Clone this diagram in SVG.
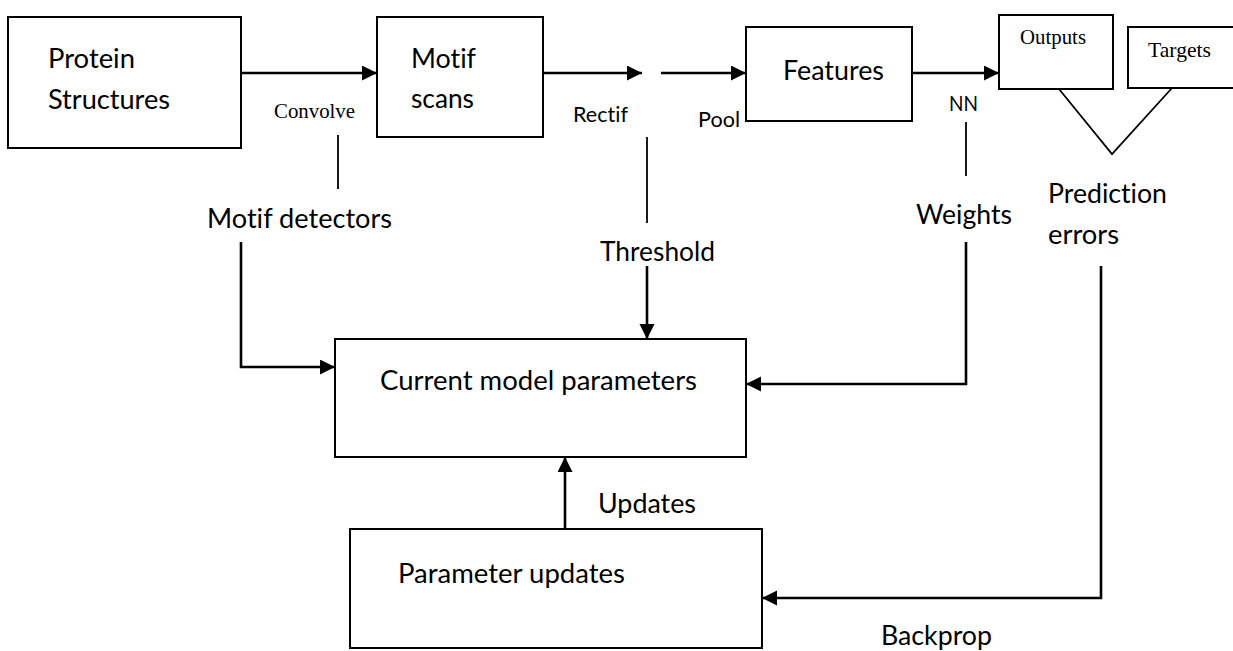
<svg xmlns="http://www.w3.org/2000/svg" width="1233" height="651" viewBox="0 0 1233 651">
  <style>
    .box { fill: #ffffff; stroke: #000000; stroke-width: 2; }
    .flow { fill: none; stroke: #000000; stroke-width: 2.6; }
    .tick { fill: none; stroke: #000000; stroke-width: 1.8; }
    text { font-variant-ligatures: none; font-feature-settings: "liga" 0, "clig" 0; }
    .lbl { font-family: Lato, "Open Sans", sans-serif; font-size: 26px; fill: #000000; }
    .sm { font-family: Lato, "Open Sans", sans-serif; font-size: 21px; fill: #000000; }
    .serif { font-family: "Liberation Serif", "Times New Roman", serif; font-size: 21px; fill: #000000; }
  </style>
  <defs>
    <marker id="head" markerUnits="userSpaceOnUse" markerWidth="16" markerHeight="16" refX="15" refY="7.5" orient="auto">
      <path d="M0,0 L15,7.5 L0,15 Z" fill="#000000"/>
    </marker>
  </defs>
  <rect width="1233" height="651" fill="#ffffff"/>

  <!-- connectors -->
  <g id="connectors">
    <line class="flow" x1="241" y1="73" x2="377" y2="73" marker-end="url(#head)"/>
    <line class="flow" x1="543" y1="73" x2="642" y2="73" marker-end="url(#head)"/>
    <line class="flow" x1="661" y1="73" x2="746" y2="73" marker-end="url(#head)"/>
    <line class="flow" x1="913" y1="73" x2="999" y2="73" marker-end="url(#head)"/>
    <line class="tick" x1="338" y1="135" x2="338" y2="189"/>
    <line class="tick" x1="647" y1="137" x2="647" y2="223"/>
    <line class="tick" x1="966" y1="122" x2="966" y2="176"/>
    <polyline class="tick" points="1059,89 1112,154 1172,88"/>
    <polyline class="flow" points="241,242 241,367 335,367" marker-end="url(#head)"/>
    <line class="flow" x1="647" y1="266" x2="647" y2="339" marker-end="url(#head)"/>
    <polyline class="flow" points="966,242 966,384 746,384" marker-end="url(#head)"/>
    <line class="flow" x1="565" y1="529" x2="565" y2="457" marker-end="url(#head)"/>
    <polyline class="flow" points="1101,266 1101,598 762,598" marker-end="url(#head)"/>
  </g>

  <!-- nodes -->
  <g id="protein-structures">
    <rect class="box" x="8" y="17" width="233" height="131"/>
    <text class="lbl" x="48" y="68" textLength="87" lengthAdjust="spacingAndGlyphs">Protein</text>
    <text class="lbl" x="48" y="109" textLength="122" lengthAdjust="spacingAndGlyphs">Structures</text>
  </g>
  <g id="motif-scans">
    <rect class="box" x="377" y="17" width="166" height="120"/>
    <text class="lbl" x="411" y="68" textLength="65" lengthAdjust="spacingAndGlyphs">Motif</text>
    <text class="lbl" x="411" y="108" textLength="63" lengthAdjust="spacingAndGlyphs">scans</text>
  </g>
  <g id="features">
    <rect class="box" x="746" y="27" width="166" height="94"/>
    <text class="lbl" x="783" y="80" textLength="101" lengthAdjust="spacingAndGlyphs">Features</text>
  </g>
  <g id="outputs">
    <rect class="box" x="999" y="15" width="114" height="74"/>
    <text class="serif" x="1020" y="44" textLength="66" lengthAdjust="spacingAndGlyphs">Outputs</text>
  </g>
  <g id="targets">
    <rect class="box" x="1128" y="27" width="110" height="61"/>
    <text class="serif" x="1148" y="57" textLength="63" lengthAdjust="spacingAndGlyphs">Targets</text>
  </g>
  <g id="current-model-parameters">
    <rect class="box" x="335" y="339" width="411" height="118"/>
    <text class="lbl" x="380" y="390" textLength="317" lengthAdjust="spacingAndGlyphs">Current model parameters</text>
  </g>
  <g id="parameter-updates">
    <rect class="box" x="350" y="529" width="412" height="119"/>
    <text class="lbl" x="398" y="583" textLength="227" lengthAdjust="spacingAndGlyphs">Parameter updates</text>
  </g>

  <!-- labels -->
  <g id="labels">
    <text class="serif" x="274" y="118" textLength="81" lengthAdjust="spacingAndGlyphs">Convolve</text>
    <text class="lbl" x="207" y="228" textLength="185" lengthAdjust="spacingAndGlyphs">Motif detectors</text>
    <text class="sm" x="573" y="122" textLength="55" lengthAdjust="spacingAndGlyphs">Rectif</text>
    <text class="sm" x="698" y="127" textLength="42" lengthAdjust="spacingAndGlyphs">Pool</text>
    <text class="sm" x="949" y="111" textLength="29" lengthAdjust="spacingAndGlyphs">NN</text>
    <text class="lbl" x="1048" y="203" textLength="119" lengthAdjust="spacingAndGlyphs">Prediction</text>
    <text class="lbl" x="1048" y="244" textLength="71" lengthAdjust="spacingAndGlyphs">errors</text>
    <text class="lbl" x="916" y="224" textLength="96" lengthAdjust="spacingAndGlyphs">Weights</text>
    <text class="lbl" x="600" y="261" textLength="115" lengthAdjust="spacingAndGlyphs">Threshold</text>
    <text class="lbl" x="598" y="513" textLength="98" lengthAdjust="spacingAndGlyphs">Updates</text>
    <text class="lbl" x="881" y="645" textLength="111" lengthAdjust="spacingAndGlyphs">Backprop</text>
  </g>
</svg>
